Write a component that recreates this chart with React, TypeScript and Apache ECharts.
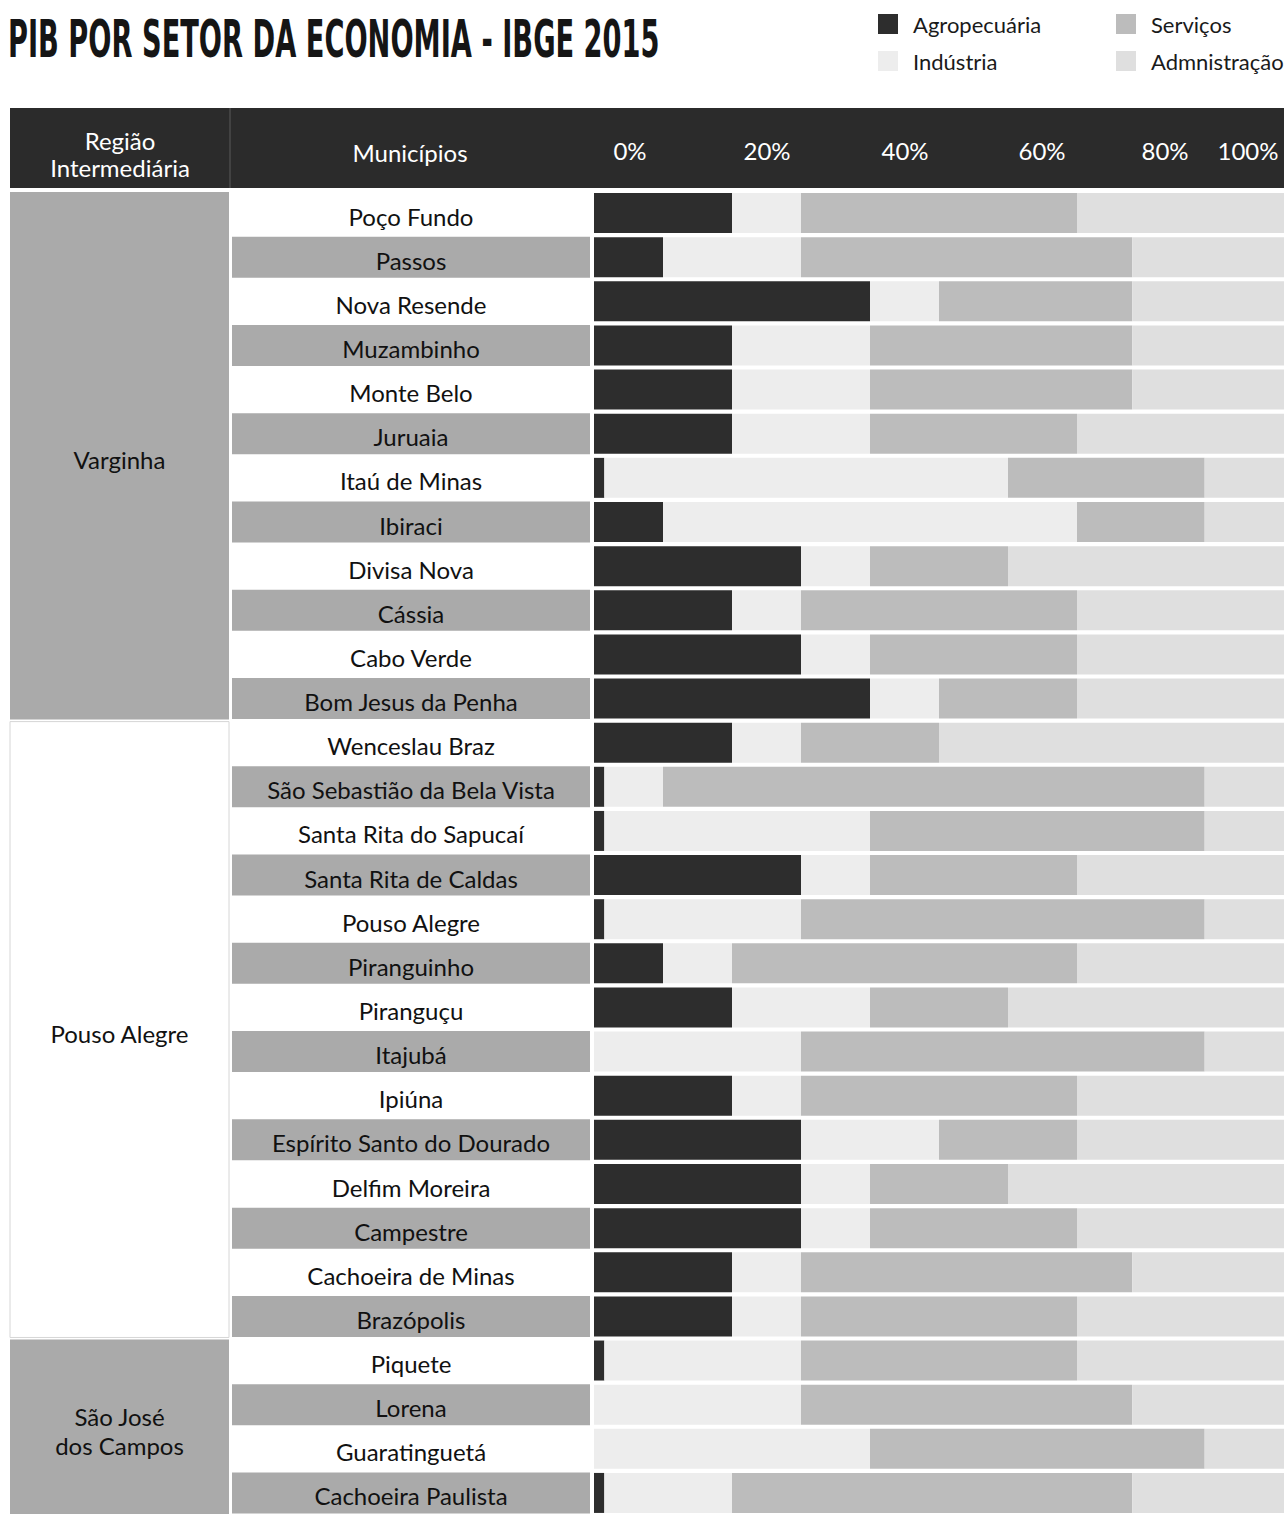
import React, { useEffect, useRef } from "react";
import * as echarts from "echarts";

const municipalities = [
  "Poço Fundo", "Passos", "Nova Resende", "Muzambinho", "Monte Belo", "Juruaia",
  "Itaú de Minas", "Ibiraci", "Divisa Nova", "Cássia", "Cabo Verde", "Bom Jesus da Penha",
  "Wenceslau Braz", "São Sebastião da Bela Vista", "Santa Rita do Sapucaí", "Santa Rita de Caldas",
  "Pouso Alegre", "Piranguinho", "Piranguçu", "Itajubá", "Ipiúna", "Espírito Santo do Dourado",
  "Delfim Moreira", "Campestre", "Cachoeira de Minas", "Brazópolis",
  "Piquete", "Lorena", "Guaratinguetá", "Cachoeira Paulista",
];

const agropecuaria = [20, 10, 40, 20, 20, 20, 1.5, 10, 30, 20, 30, 40, 20, 1.5, 1.5, 30, 1.5, 10, 20, 0, 20, 30, 30, 30, 20, 20, 1.5, 0, 0, 1.5];
const industria = [10, 20, 10, 20, 20, 20, 58.5, 60, 10, 10, 10, 10, 10, 8.5, 38.5, 10, 28.5, 10, 20, 30, 10, 20, 10, 10, 10, 10, 28.5, 30, 40, 18.5];
const servicos = [40, 48, 28, 38, 38, 30, 28.5, 18.5, 20, 40, 30, 20, 20, 78.5, 48.5, 30, 58.5, 50, 20, 58.5, 40, 20, 20, 30, 48, 40, 40, 48, 48.5, 58];
const administracao = [30, 22, 22, 22, 22, 30, 11.5, 11.5, 40, 30, 30, 30, 50, 11.5, 11.5, 30, 11.5, 30, 40, 11.5, 30, 30, 40, 30, 22, 30, 30, 22, 11.5, 22];

const regionNames = ["Varginha", "Pouso Alegre", "São José\ndos Campos"];
const regionFirstRow = [0, 12, 26];
const regionLastRow = [11, 25, 29];

const tickLabels = ["0%", "20%", "40%", "60%", "80%", "100%"];
const seriesNames = ["Agropecuária", "Indústria", "Serviços", "Admnistração"];

// layout constants
const TICK_X = [630, 767, 905, 1042, 1165, 1248];
const FONT = "Lato, 'Noto Sans', sans-serif";
const GRID_TOP = 191;
const GRID_H = 1326;
const COLORS = ["#2d2d2d", "#ededed", "#bcbcbc", "#dfdfdf"];
const CELL_GRAY = "#aaaaaa";
const HEADER = "#2b2b2b";

export default function App() {
  const ref = useRef<HTMLDivElement>(null);
  useEffect(() => {
    if (!ref.current) return;
    const chart = echarts.init(ref.current, null, { renderer: "svg" });
    const values = [agropecuaria, industria, servicos, administracao];

    const grids = [
      { left: 594, width: 690, top: GRID_TOP, height: GRID_H },
      { left: 232, width: 358, top: GRID_TOP, height: GRID_H },
      { left: 10, width: 219, top: GRID_TOP, height: GRID_H },
    ];

    const legendBase = {
      orient: "vertical",
      top: 8,
      itemWidth: 20,
      itemHeight: 20,
      itemGap: 15,
      icon: "rect",
      textStyle: { fontFamily: FONT, fontSize: 22, color: "#1a1a1a", padding: [0, 0, 0, 10] },
    };

    const option: any = {
      animation: false,
      backgroundColor: "#ffffff",
      textStyle: { fontFamily: FONT },
      grid: grids,
      xAxis: [
        { gridIndex: 0, type: "value", min: 0, max: 100, show: false },
        { gridIndex: 1, type: "value", min: 0, max: 1, show: false },
        { gridIndex: 2, type: "value", min: 0, max: 1, show: false },
      ],
      yAxis: [0, 1, 2].map((g) => ({
        gridIndex: g,
        type: "category",
        data: municipalities,
        inverse: true,
        show: false,
      })),
      legend: [
        { ...legendBase, data: [seriesNames[0], seriesNames[1]], left: 873 },
        { ...legendBase, data: [seriesNames[2], seriesNames[3]], left: 1111 },
      ],
      series: [
        ...seriesNames.map((name, i) => ({
          name,
          type: "bar",
          stack: "total",
          xAxisIndex: 0,
          yAxisIndex: 0,
          barWidth: 40,
          itemStyle: { color: COLORS[i] },
          data: values[i],
        })),
        {
          name: "Municípios",
          type: "bar",
          xAxisIndex: 1,
          yAxisIndex: 1,
          barWidth: 41,
          silent: true,
          data: municipalities.map((m, i) => ({
            value: 1,
            itemStyle: { color: i % 2 === 1 ? CELL_GRAY : "#ffffff" },
          })),
          label: {
            show: true,
            position: "inside",
            offset: [0, 3],
            formatter: (p: any) => municipalities[p.dataIndex],
            fontFamily: FONT,
            fontSize: 24,
            color: "#111111",
          },
        },
        {
          name: "Região",
          type: "custom",
          xAxisIndex: 2,
          yAxisIndex: 2,
          silent: true,
          data: regionNames.map((r, i) => ({ value: [0, regionFirstRow[i], regionLastRow[i]], name: r })),
          renderItem: (params: any, api: any) => {
            const i = params.dataIndex;
            const s = api.value(1);
            const e = api.value(2);
            const band = api.size([0, 1])[1];
            const p0 = api.coord([0, s]);
            const p1 = api.coord([1, e]);
            const y0 = p0[1] - band / 2 + 1;
            const y1 = p1[1] + band / 2 - 1;
            const filled = i % 2 === 0;
            return {
              type: "group",
              children: [
                {
                  type: "rect",
                  shape: { x: p0[0], y: y0, width: p1[0] - p0[0], height: y1 - y0 },
                  style: filled
                    ? { fill: CELL_GRAY }
                    : { fill: "#ffffff", stroke: "#d6d6d6", lineWidth: 1 },
                },
                {
                  type: "text",
                  style: {
                    text: regionNames[i],
                    x: (p0[0] + p1[0]) / 2,
                    y: (y0 + y1) / 2 + 4,
                    align: "center",
                    verticalAlign: "middle",
                    fill: "#111111",
                    font: `24px ${FONT}`,
                    lineHeight: 29,
                  },
                },
              ],
            };
          },
        },
      ],
      graphic: [
        {
          type: "text",
          x: 8,
          y: 39,
          scaleX: 0.583,
          style: {
            text: "PIB POR SETOR DA ECONOMIA - IBGE 2015",
            font: "bold 52px 'DejaVu Sans Condensed', 'DejaVu Sans', sans-serif",
            fill: "#151515",
            verticalAlign: "middle",
            align: "left",
          },
        },
        {
          type: "rect",
          shape: { x: 10, y: 108, width: 1274, height: 80 },
          style: { fill: HEADER },
        },
        {
          type: "line",
          shape: { x1: 230, y1: 108, x2: 230, y2: 188 },
          style: { stroke: "#5a5a5a", lineWidth: 1 },
        },
        {
          type: "text",
          x: 120,
          y: 154,
          style: {
            text: "Região\nIntermediária",
            font: `24px ${FONT}`,
            fill: "#ffffff",
            align: "center",
            verticalAlign: "middle",
            lineHeight: 27,
          },
        },
        {
          type: "text",
          x: 410,
          y: 152,
          style: {
            text: "Municípios",
            font: `24px ${FONT}`,
            fill: "#ffffff",
            align: "center",
            verticalAlign: "middle",
          },
        },
        ...tickLabels.map((t, i) => ({
          type: "text",
          x: TICK_X[i],
          y: 150,
          style: {
            text: t,
            font: `24px ${FONT}`,
            fill: "#ffffff",
            align: "center",
            verticalAlign: "middle",
          },
        })),
      ],
    };
    chart.setOption(option);
    return () => chart.dispose();
  }, []);
  return (
    <div
      ref={ref}
      style={{ position: "absolute", left: 0, top: 0, width: 1284, height: 1515 }}
    />
  );
}
